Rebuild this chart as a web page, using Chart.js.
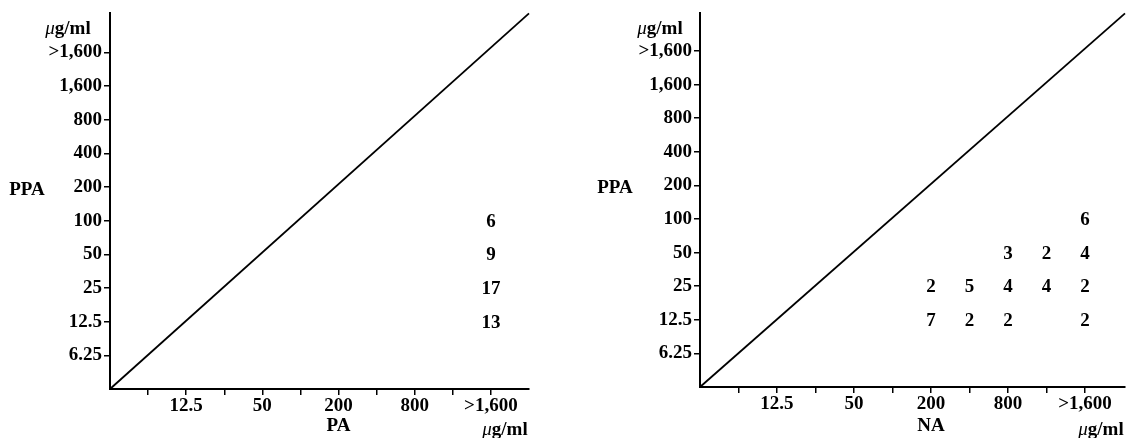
<!DOCTYPE html>
<html>
<head>
<meta charset="utf-8">
<script src="https://cdn.jsdelivr.net/npm/chart.js@4/dist/chart.umd.min.js"></script>
<style>
  body { margin: 0; background: #fff; width: 1134px; height: 438px; position: relative; overflow: hidden; }
  .panel { position: absolute; top: 0; width: 567px; height: 438px; }
</style>
</head>
<body>
<div class="panel" style="left:0"><canvas id="paChart"></canvas></div>
<div class="panel" style="left:567px"><canvas id="naChart"></canvas></div>
<script>
// Concentration steps (µg/ml); the index is the position on both axes
const concSteps = ['', '6.25', '12.5', '25', '50', '100', '200', '400', '800', '1,600', '>1,600'];
const xTickLabels = ['12.5', '50', '200', '800', '>1,600'];

// PA (x) vs PPA (y): number of strains at each MIC pair
const paX = ['>1,600', '>1,600', '>1,600', '>1,600'];
const paY = ['100', '50', '25', '12.5'];
const paCount = [6, 9, 17, 13];

// NA (x) vs PPA (y)
const naX = ['>1,600', '800', '1,600', '>1,600', '200', '400', '800', '1,600', '>1,600', '200', '400', '800', '>1,600'];
const naY = ['100', '50', '50', '50', '25', '25', '25', '25', '25', '12.5', '12.5', '12.5', '12.5'];
const naCount = [6, 3, 2, 4, 2, 5, 4, 4, 2, 7, 2, 2, 2];

const serif = '"Liberation Serif", "Times New Roman", serif';
const tickFont = { family: serif, size: 19, weight: 'bold' };
const stepPositions = concSteps.map((s, i) => i).filter(i => i > 0);

// Draws the strain counts and the axis captions
const textPlugin = {
  id: 'panelText',
  afterDatasetsDraw(chart, args, opts) {
    const ctx = chart.ctx;
    const area = chart.chartArea;
    const xs = chart.scales.x;
    ctx.save();
    ctx.fillStyle = '#000';
    ctx.textAlign = 'center';
    ctx.textBaseline = 'middle';

    // counts
    ctx.font = 'bold 19px ' + serif;
    const meta = chart.getDatasetMeta(1);
    meta.data.forEach((pt, i) => {
      ctx.fillText(String(chart.data.datasets[1].counts[i]), pt.x, pt.y + 1);
    });

    // y title
    ctx.fillText('PPA', area.left + opts.ppaDx, area.top + opts.ppaDy);
    // x title, under the "200" tick
    ctx.fillText(opts.xTitle, xs.getPixelForValue(6), 426);

    // units
    const unit = (cx, cy) => {
      ctx.font = 'italic 19px ' + serif;
      const muW = ctx.measureText('μ').width;
      ctx.font = 'bold 19px ' + serif;
      const restW = ctx.measureText('g/ml').width;
      const x0 = cx - (muW + restW) / 2;
      ctx.textAlign = 'left';
      ctx.font = 'italic 19px ' + serif;
      ctx.fillText('μ', x0, cy);
      ctx.font = 'bold 19px ' + serif;
      ctx.fillText('g/ml', x0 + muW, cy);
      ctx.textAlign = 'center';
    };
    unit(area.left + opts.unitTopDx, 29);
    unit(area.right - 24, 430);
    ctx.restore();
  }
};

function makeChart(id, xTitle, xs, ys, counts, geo) {
  const points = xs.map((x, i) => ({ x: concSteps.indexOf(x), y: concSteps.indexOf(ys[i]) }));
  return new Chart(document.getElementById(id), {
    type: 'scatter',
    data: {
      datasets: [
        {
          data: [{ x: 0, y: 0 }, { x: geo.xMax, y: geo.yMax }],
          showLine: true,
          borderColor: '#000',
          borderWidth: 1.8,
          pointRadius: 0,
          clip: false
        },
        {
          data: points,
          counts: counts,
          pointRadius: 0
        }
      ]
    },
    options: {
      responsive: true,
      maintainAspectRatio: false,
      animation: false,
      layout: { padding: { left: 0, right: geo.padRight, top: geo.padTop, bottom: 0 } },
      plugins: {
        legend: { display: false },
        tooltip: { enabled: false },
        panelText: { xTitle: xTitle, ppaDx: geo.ppaDx, ppaDy: geo.ppaDy, unitTopDx: geo.unitTopDx }
      },
      scales: {
        x: {
          type: 'linear',
          min: 0,
          max: geo.xMax,
          afterBuildTicks: s => { s.ticks = stepPositions.map(v => ({ value: v })); },
          afterFit: s => { s.height = geo.xHeight; },
          ticks: {
            callback: v => xTickLabels.includes(concSteps[v]) ? concSteps[v] : '',
            autoSkip: false,
            maxRotation: 0,
            padding: 0,
            color: '#000',
            font: tickFont
          },
          grid: { drawOnChartArea: false, drawTicks: true, tickLength: 6, color: '#000', lineWidth: 1.5 },
          border: { color: '#000', width: 2 }
        },
        y: {
          type: 'linear',
          min: 0,
          max: geo.yMax,
          afterBuildTicks: s => { s.ticks = stepPositions.map(v => ({ value: v })); },
          afterFit: s => { s.width = geo.yWidth; },
          ticks: {
            callback: v => concSteps[v],
            autoSkip: false,
            padding: 2,
            color: '#000',
            font: tickFont
          },
          grid: { drawOnChartArea: false, drawTicks: true, tickLength: 6, color: '#000', lineWidth: 1.5 },
          border: { color: '#000', width: 2 }
        }
      }
    },
    plugins: [textPlugin]
  });
}

makeChart('paChart', 'PA', paX, paY, paCount,
  { xMax: 11.0, yMax: 11.16, yWidth: 110, xHeight: 49, padRight: 38, padTop: 13, ppaDx: -83, ppaDy: 177, unitTopDx: -42 });
makeChart('naChart', 'NA', naX, naY, naCount,
  { xMax: 11.04, yMax: 11.12, yWidth: 133, xHeight: 51, padRight: 9, padTop: 10, ppaDx: -85, ppaDy: 175, unitTopDx: -40 });
</script>
</body>
</html>
